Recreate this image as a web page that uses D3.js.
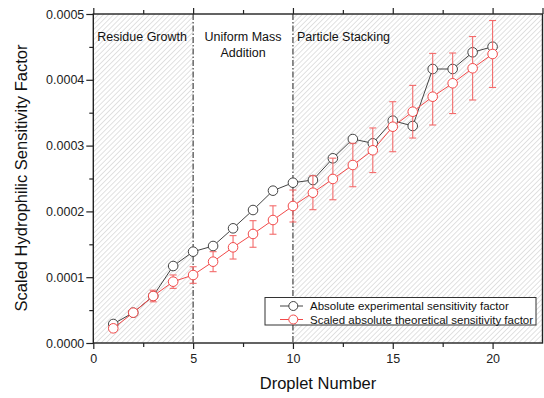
<!DOCTYPE html>
<html>
<head>
<meta charset="utf-8">
<script src="https://cdn.jsdelivr.net/npm/d3@7"></script>
<style>
    body { margin: 0; background: #fff; }
    svg { font-family: "Liberation Sans", Arial, sans-serif; }
</style>
</head>
<body>
<svg id="chart"></svg>
<script>

// droplet numbers
const droplets = [1, 2, 3, 4, 5, 6, 7, 8, 9, 10, 11, 12, 13, 14, 15, 16, 17, 18, 19, 20];

// absolute experimental sensitivity factor
const experimental = [2.89e-5, 4.61e-5, 7.14e-5, 1.170e-4, 1.388e-4, 1.474e-4, 1.743e-4, 2.021e-4,
    2.315e-4, 2.436e-4, 2.477e-4, 2.807e-4, 3.100e-4, 3.035e-4, 3.379e-4, 3.298e-4,
    4.164e-4, 4.164e-4, 4.418e-4, 4.503e-4];

// scaled absolute theoretical sensitivity factor
const theoretical = [2.23e-5, 4.61e-5, 7.14e-5, 9.32e-5, 1.033e-4, 1.236e-4, 1.454e-4, 1.657e-4,
    1.869e-4, 2.082e-4, 2.284e-4, 2.493e-4, 2.705e-4, 2.929e-4, 3.287e-4, 3.515e-4,
    3.743e-4, 3.947e-4, 4.175e-4, 4.392e-4];

// error bars of the theoretical series (up / down)
const errUp = [4.6e-6, 3e-6, 8.8e-6, 1.02e-5, 1.26e-5, 1.52e-5, 1.78e-5, 2.02e-5, 2.16e-5, 2.43e-5,
    2.58e-5, 3.16e-5, 3.3e-5, 3.39e-5, 3.8e-5, 4.0e-5, 6.58e-5, 4.6e-5, 4.82e-5, 5.09e-5];
const errDown = [4.6e-6, 3e-6, 8.8e-6, 1.02e-5, 1.26e-5, 1.52e-5, 1.78e-5, 2.02e-5, 2.16e-5, 2.43e-5,
    2.58e-5, 3.16e-5, 3.3e-5, 3.39e-5, 3.8e-5, 4.0e-5, 4.3e-5, 4.6e-5, 4.82e-5, 5.09e-5];

const xTicks = [0, 5, 10, 15, 20];
const yTicks = [0, 0.0001, 0.0002, 0.0003, 0.0004, 0.0005];

// regions: [start, end, label lines, hatched]
const regionStart = [0, 5, 10];
const regionEnd = [5, 10, 22.5];
const regionLabels = [["Residue Growth"], ["Uniform Mass", "Addition"], ["Particle Stacking"]];
const regionHatched = [true, false, true];

const seriesNames = ["Absolute experimental sensitivity factor", "Scaled absolute theoretical sensitivity factor"];

class scatterChart {

    constructor(_config) {
        this.config = {
            parentElement: _config.parentElement,
            containerWidth: 544,
            containerHeight: 398,
            margin: { top: 14, bottom: 55, right: 1.5, left: 93.3 }
        }
        this.initVis();
    }

    initVis() {
        let vis = this;

        vis.width = vis.config.containerWidth - vis.config.margin.left - vis.config.margin.right;
        vis.height = vis.config.containerHeight - vis.config.margin.top - vis.config.margin.bottom;

        vis.svg = d3.select(vis.config.parentElement)
            .attr('width', vis.config.containerWidth)
            .attr('height', vis.config.containerHeight);

        // hatch pattern
        const pat = vis.svg.append('defs').append('pattern')
            .attr('id', 'hatch')
            .attr('patternUnits', 'userSpaceOnUse')
            .attr('width', 3.6)
            .attr('height', 3.6)
            .attr('patternTransform', 'rotate(45)');
        pat.append('line')
            .attr('x1', 0).attr('y1', 0)
            .attr('x2', 0).attr('y2', 3.6)
            .attr('stroke', '#c8c8c8')
            .attr('stroke-width', 1.1);

        vis.chart = vis.svg.append('g')
            .attr('transform', `translate(${vis.config.margin.left}, ${vis.config.margin.top})`);

        vis.xScale = d3.scaleLinear()
            .domain([0, 22.5])
            .range([0, vis.width]);

        vis.yScale = d3.scaleLinear()
            .domain([0, 0.0005])
            .range([vis.height, 0]);

        vis.renderVis();
    }

    renderVis() {
        let vis = this;
        const x = vis.xScale, y = vis.yScale;

        // background regions
        vis.chart.selectAll('.region')
            .data(regionStart)
            .enter()
            .append('rect')
            .attr('x', (d, i) => x(d))
            .attr('y', 0)
            .attr('width', (d, i) => x(regionEnd[i]) - x(d))
            .attr('height', vis.height)
            .attr('fill', (d, i) => regionHatched[i] ? 'url(#hatch)' : '#fff');

        // region dividers
        vis.chart.selectAll('.divider')
            .data([5, 10])
            .enter()
            .append('line')
            .attr('x1', d => x(d)).attr('x2', d => x(d))
            .attr('y1', 0).attr('y2', vis.height)
            .attr('stroke', '#333')
            .attr('stroke-width', 1.1)
            .attr('stroke-dasharray', '6,2,1.5,2');

        // region labels
        regionLabels.forEach((lines, i) => {
            const centered = lines.length > 1;
            lines.forEach((t, j) => {
                vis.chart.append('text')
                    .attr('x', centered ? (x(regionStart[i]) + x(regionEnd[i])) / 2 : x(regionStart[i]) + 4)
                    .attr('y', 27 + j * 16)
                    .attr('text-anchor', centered ? 'middle' : 'start')
                    .attr('font-size', 12.5)
                    .attr('fill', '#111')
                    .text(t);
            });
        });

        // axes
        const yAxis = d3.axisLeft(y).tickValues(yTicks).tickFormat(d3.format('.4f')).tickSize(7).tickPadding(2);
        const yMinor = d3.axisLeft(y).tickValues(d3.range(0.00005, 0.0005, 0.0001)).tickFormat('').tickSize(4);
        const xAxis = d3.axisBottom(x).tickValues(xTicks).tickFormat(d3.format('d')).tickSize(6).tickPadding(5);
        const xMinor = d3.axisBottom(x).tickValues(d3.range(2.5, 22.5, 5)).tickFormat('').tickSize(4);
        const xTop = d3.axisTop(x).tickValues(xTicks.concat([22.5])).tickFormat('').tickSize(6);
        const xTopMinor = d3.axisTop(x).tickValues(d3.range(2.5, 22.5, 5)).tickFormat('').tickSize(4);

        const groups = [
            vis.chart.append('g').call(yAxis),
            vis.chart.append('g').call(yMinor),
            vis.chart.append('g').attr('transform', `translate(0, ${vis.height})`).call(xAxis),
            vis.chart.append('g').attr('transform', `translate(0, ${vis.height})`).call(xMinor),
            vis.chart.append('g').call(xTop),
            vis.chart.append('g').call(xTopMinor)
        ];
        groups.forEach(g => {
            g.select('.domain').remove();
            g.selectAll('line').attr('stroke', '#222').attr('stroke-width', 1.2);
            g.selectAll('text').attr('font-size', 12.5).attr('fill', '#222')
                .attr('font-family', '"Liberation Sans", Arial, sans-serif');
        });

        // frame
        vis.chart.append('rect')
            .attr('width', vis.width)
            .attr('height', vis.height)
            .attr('fill', 'none')
            .attr('stroke', '#222')
            .attr('stroke-width', 1.4);

        // experimental series
        const line = d3.line().x((d, i) => x(droplets[i])).y(d => y(d));

        vis.chart.append('path')
            .datum(experimental)
            .attr('d', line)
            .attr('fill', 'none')
            .attr('stroke', '#444')
            .attr('stroke-width', 1);

        vis.chart.selectAll('.exp')
            .data(experimental)
            .enter()
            .append('circle')
            .attr('cx', (d, i) => x(droplets[i]))
            .attr('cy', d => y(d))
            .attr('r', 4.8)
            .attr('fill', '#fff')
            .attr('stroke', '#444')
            .attr('stroke-width', 1);

        // theoretical series with error bars
        const red = '#f24a4a';
        const errG = vis.chart.append('g').attr('stroke', '#f36b6b').attr('stroke-width', 1.1);
        theoretical.forEach((d, i) => {
            const cx = x(droplets[i]);
            const top = y(d + errUp[i]), bot = y(d - errDown[i]);
            errG.append('line').attr('x1', cx).attr('x2', cx).attr('y1', top).attr('y2', bot);
            errG.append('line').attr('x1', cx - 3.5).attr('x2', cx + 3.5).attr('y1', top).attr('y2', top);
            errG.append('line').attr('x1', cx - 3.5).attr('x2', cx + 3.5).attr('y1', bot).attr('y2', bot);
        });

        vis.chart.append('path')
            .datum(theoretical)
            .attr('d', line)
            .attr('fill', 'none')
            .attr('stroke', red)
            .attr('stroke-width', 1);

        vis.chart.selectAll('.theo')
            .data(theoretical)
            .enter()
            .append('circle')
            .attr('cx', (d, i) => x(droplets[i]))
            .attr('cy', d => y(d))
            .attr('r', 4.8)
            .attr('fill', '#fff')
            .attr('stroke', red)
            .attr('stroke-width', 1);

        // legend
        const lg = vis.chart.append('g').attr('transform', `translate(${265 - vis.config.margin.left}, ${297.5 - vis.config.margin.top})`);
        lg.append('rect')
            .attr('width', 271)
            .attr('height', 27.5)
            .attr('fill', '#fff')
            .attr('stroke', '#333')
            .attr('stroke-width', 1);
        [['#444', '#444'], [red, red]].forEach((c, i) => {
            const ly = 8.5 + i * 13.5;
            lg.append('line').attr('x1', 15).attr('x2', 38).attr('y1', ly).attr('y2', ly)
                .attr('stroke', c[0]).attr('stroke-width', 1);
            lg.append('circle').attr('cx', 28.3).attr('cy', ly).attr('r', 4.5)
                .attr('fill', '#fff').attr('stroke', c[1]).attr('stroke-width', 1);
            lg.append('text').attr('x', 45).attr('y', ly + 4)
                .attr('font-size', 11.5).attr('fill', '#111')
                .text(seriesNames[i]);
        });

        // axis titles
        vis.svg.append('text')
            .attr('x', 318)
            .attr('y', 389)
            .attr('text-anchor', 'middle')
            .attr('font-size', 16.5)
            .attr('fill', '#111')
            .text('Droplet Number');

        vis.svg.append('text')
            .attr('transform', 'translate(27, 178) rotate(-90)')
            .attr('text-anchor', 'middle')
            .attr('font-size', 16.5)
            .attr('fill', '#111')
            .text('Scaled Hydrophilic Sensitivity Factor');
    }
};

new scatterChart({ parentElement: '#chart' });

</script>
</body>
</html>
